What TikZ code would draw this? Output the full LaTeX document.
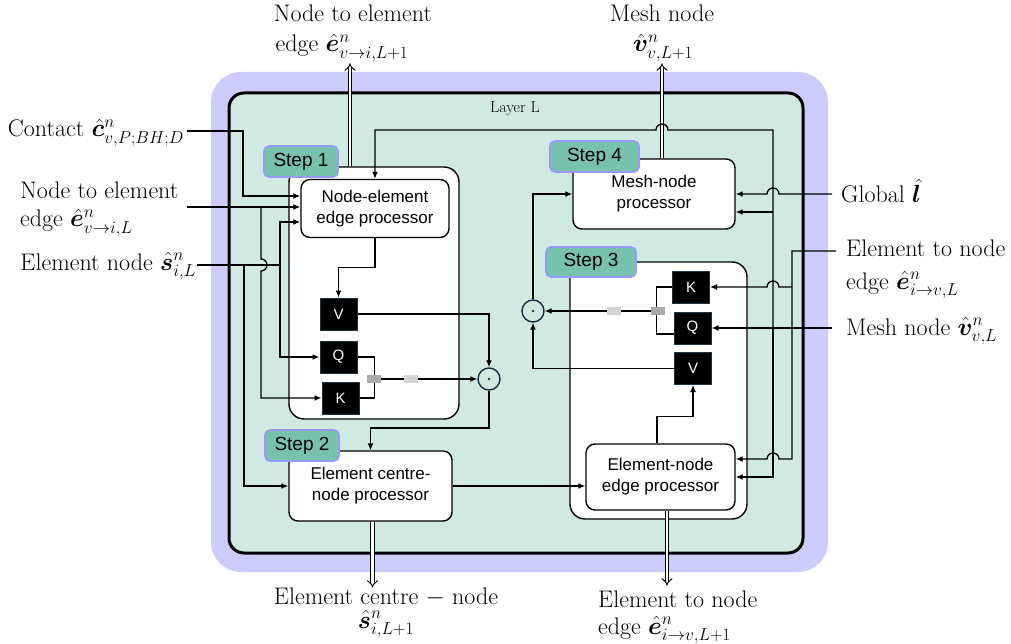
\documentclass[tikz,border=0pt]{standalone}
\usepackage{amsmath}
\usepackage{bm}
\usepackage{fontspec}
\setsansfont{Liberation Sans}
\usetikzlibrary{arrows.meta,calc}

\definecolor{halo}{RGB}{204,204,255}
\definecolor{layerfill}{RGB}{208,234,226}
\definecolor{stepfill}{RGB}{118,194,172}
\definecolor{stepline}{RGB}{153,153,255}
\definecolor{graydark}{RGB}{170,170,170}
\definecolor{graylight}{RGB}{212,212,212}
\definecolor{dotline}{RGB}{22,48,66}
\definecolor{opline}{RGB}{30,50,62}

\tikzset{
  wire/.style={line width=1.3pt},
  arr/.style={wire, -{Latex[length=7pt,width=6pt]}},
  outarrow/.style={line width=1pt, double=white, double distance=2.8pt, -{Implies[length=6pt,width=12pt]}},
  proc/.style={draw, fill=white, line width=1.4pt, rounded corners=9pt, align=center,
    inner sep=0pt, font=\sffamily\fontsize{17}{21}\selectfont},
  stepbox/.style={draw=stepline, fill=stepfill, line width=1.6pt, rounded corners=5pt,
    inner sep=0pt, font=\sffamily\fontsize{19}{22}\selectfont},
  groupbox/.style={draw, fill=white, line width=1.4pt, rounded corners=15pt, inner sep=0pt},
  opbox/.style={draw=opline, fill=black, text=white, line width=1pt, minimum width=37pt,
    minimum height=32pt, inner sep=0pt, font=\sffamily\fontsize{15}{18}\selectfont},
  dotnode/.style={circle, draw=dotline, line width=1.4pt, minimum size=22pt, inner sep=0pt},
  gap/.style={minimum width=14pt, minimum height=8pt, inner sep=0pt},
  lbl/.style={inner sep=0pt, font=\fontsize{24}{28}\selectfont},
}

\begin{document}
\begin{tikzpicture}[x=1pt,y=-1pt]
\useasboundingbox (0,0) rectangle (1011,644);

% layer frame
\fill[halo, rounded corners=30pt] (211,72) rectangle (828,572);
\draw[fill=layerfill, line width=3pt, rounded corners=15pt] (229,93) rectangle (803,553);
\node[anchor=base, inner sep=0pt, font=\fontsize{16}{18}\selectfont] (layer) at (515,113) {Layer L};

% step groups
\node[groupbox, minimum width=170pt, minimum height=252pt] (g1) at (374,293) {};
\node[groupbox, minimum width=177pt, minimum height=257pt] (g3) at (658.5,390.5) {};

% processors
\node[proc, minimum width=148pt, minimum height=58pt] (nep) at (375,208.5) {Node-element\\edge processor};
\node[proc, minimum width=162pt, minimum height=70pt] (mnp) at (654,194) {Mesh-node\\processor};
\node[proc, minimum width=163pt, minimum height=70pt] (ecp) at (370.5,486) {Element centre-\\node processor};
\node[proc, minimum width=149pt, minimum height=66pt] (enp) at (660.5,477) {Element-node\\edge processor};

% attention operands
\node[opbox] (V1) at (338.5,314) {V};
\node[opbox] (Q1) at (338.5,357) {Q};
\node[opbox] (K1) at (340.5,398) {K};
\node[opbox] (K3) at (691,287) {K};
\node[opbox] (Q3) at (692.5,328) {Q};
\node[opbox] (V3) at (693,368.5) {V};

% products
\node[dotnode] (c1) at (489,379) {};
\node[dotnode] (c3) at (533,311) {};
\fill[dotline] (c1.center) circle (1.4pt);
\fill[dotline] (c3.center) circle (1.4pt);

% outputs
\draw[outarrow] ($(g1.north)+(-24,0)$) -- ++(0,-103);
\draw[outarrow] ($(mnp.north)+(8,0)$) -- ++(0,-95);
\draw[outarrow] ($(ecp.south)+(2,0)$) -- ++(0,66);
\draw[outarrow] ($(enp.south)+(6.5,0)$) -- ++(0,75);

% step 1 attention
\draw[arr] (nep.south) -- ++(0,29) -| (V1.north);
\draw[arr] (V1.east) -| (c1.north);
\draw[wire] (Q1.east) -- ++(17,0) |- (K1.east);
\coordinate (j1) at (374,379);
\draw[arr] (j1) -- (c1.west);
\node[gap, fill=graydark] (gd1) at (374,379) {};
\node[gap, fill=graylight] (gl1) at (411,379) {};
\draw[arr] (c1.south) -- (489,428) -| (ecp.north);
\draw[arr] (ecp.east) -- (ecp.east -| enp.west);

% step 3 attention
\draw[arr] ($(enp.north)+(-3.5,0)$) -- ++(0,-27) -| (V3.south);
\draw[wire] (K3.west) -| ($(Q3.west)+(-17,6)$) -- ($(Q3.west)+(0,6)$);
\coordinate (j3) at (657,311);
\draw[arr] (j3) -- (c3.east);
\node[gap, fill=graydark] (gd3) at (658,311) {};
\node[gap, fill=graylight] (gl3) at (614,311) {};
\draw[arr] (V3.west) -| (c3.south);
\draw[arr] (c3.north) |- (mnp.west);

% inputs on the left
\coordinate (cIn) at (187,131);
\coordinate (eIn) at (187,207);
\coordinate (sIn) at (197,265);
\draw[arr] (cIn) -- (243,131) |- ($(nep.west)+(0,-12.5)$);
\draw[arr] (eIn) -- (eIn -| nep.west);
\draw[arr] (261,207) -- (261,259) arc[start angle=90, end angle=-90, radius=6pt] -- (261,398) -- (K1.west);
\draw[wire] (sIn) -- (280,265);
\draw[arr] (280,265) |- ($(nep.west)+(0,13.5)$);
\draw[arr] (280,265) |- (Q1.west);
\draw[arr] (244,265) |- (ecp.west);

% inputs on the right
\coordinate (gIn) at (832,194);
\coordinate (mIn) at (832,328);
\coordinate (xIn) at (836,251);
\draw[arr] (gIn) -- (779,194) arc[start angle=0, end angle=180, radius=6pt] -- (mnp.east);
\draw[arr] (mIn) -- (Q3.east);
\draw[arr] (773,328) -- (773,130) -- (668,130) arc[start angle=0, end angle=180, radius=6pt] -| (nep.north);
\draw[arr] (773,212) -- ($(mnp.east)+(0,18)$);
\draw[arr] (773,328) |- (enp.east);
\draw[arr] (xIn) -- (792,251) |- (779,459) arc[start angle=0, end angle=180, radius=6pt] -- ($(enp.east)+(0,-18)$);
\draw[arr] (792,287) -- (779,287) arc[start angle=0, end angle=180, radius=6pt] -- (K3.east);

% step tags
\node[stepbox, minimum width=74pt, minimum height=31pt] (s1) at (301,161.5) {Step 1};
\node[stepbox, minimum width=74pt, minimum height=31pt] (s2) at (302,445.5) {Step 2};
\node[stepbox, minimum width=90pt, minimum height=30pt] (s3) at (591,262) {Step 3};
\node[stepbox, minimum width=89pt, minimum height=31pt] (s4) at (594.5,156.5) {Step 4};

% labels: inputs
\node[lbl, anchor=base east] (tc) at (184,137) {Contact\ $\boldsymbol{\hat{c}}^{n}_{v,P;BH;D}$};
\node[lbl, anchor=base west] (te1) at (20,199) {Node to element};
\node[lbl, anchor=base west] (te2) at (20,227) {edge $\boldsymbol{\hat{e}}^{n}_{v\to i,L}$};
\node[lbl, anchor=base east] (ts) at (196,270) {Element node $\boldsymbol{\hat{s}}^{n}_{i,L}$};
\node[lbl, anchor=base west] (tg) at (841,203) {Global $\boldsymbol{\hat{l}}$};
\node[lbl, anchor=base west] (tx1) at (846,257) {Element to node};
\node[lbl, anchor=base west] (tx2) at (846,289) {edge $\boldsymbol{\hat{e}}^{n}_{i\to v,L}$};
\node[lbl, anchor=base west] (tm) at (846,335) {Mesh node $\boldsymbol{\hat{v}}^{n}_{v,L}$};

% labels: outputs
\node[lbl, anchor=base] (oe1) at (353,22) {Node to element};
\node[lbl, anchor=base] (oe2) at (342,52) {edge $\boldsymbol{\hat{e}}^{n}_{v\to i,L+1}$};
\node[lbl, anchor=base] (om1) at (662,22) {Mesh node};
\node[lbl, anchor=base] (om2) at (663,52) {$\boldsymbol{\hat{v}}^{n}_{v,L+1}$};
\node[lbl, anchor=base] (os1) at (386,604) {Element centre $-$ node};
\node[lbl, anchor=base] (os2) at (386,628) {$\boldsymbol{\hat{s}}^{n}_{i,L+1}$};
\node[lbl, anchor=base west] (ox1) at (598,607) {Element to node};
\node[lbl, anchor=base west] (ox2) at (598,634) {edge $\boldsymbol{\hat{e}}^{n}_{i\to v,L+1}$};
\end{tikzpicture}
\end{document}
